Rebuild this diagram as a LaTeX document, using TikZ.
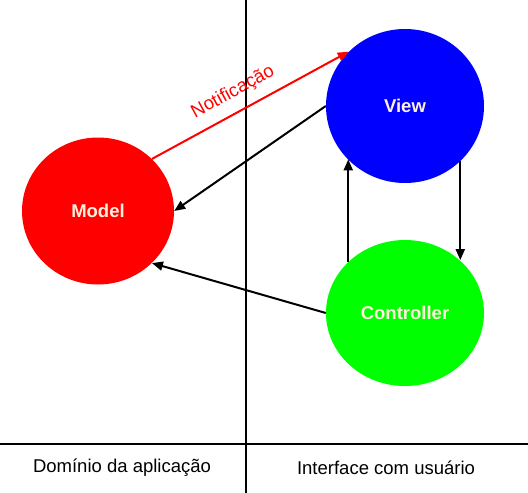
\documentclass[tikz,border=0pt]{standalone}
\usepackage{fontspec}
\setmainfont{Liberation Sans}
\usetikzlibrary{shapes.geometric,arrows.meta,calc}
\definecolor{mvcred}{RGB}{255,0,0}
\definecolor{mvcblue}{RGB}{0,0,255}
\definecolor{mvcgreen}{RGB}{0,255,0}
\definecolor{cream}{RGB}{255,240,220}
\tikzset{
  blob/.style={ellipse, inner sep=0pt, text=cream, font=\fontsize{18.5}{22}\selectfont\bfseries},
  divider/.style={line width=2pt, black},
  arr/.style={line width=2pt, black, -{Triangle[length=11pt,width=9pt]}},
  redarr/.style={line width=2pt, mvcred, -{Triangle[length=11pt,width=9pt]}},
  lbl/.style={font=\fontsize{18.5}{22}\selectfont, inner sep=0pt}
}
\begin{document}
\begin{tikzpicture}[x=1pt,y=-1pt]
\useasboundingbox (0,0) rectangle (528,493);
% dividers
\coordinate (vtop) at (245.5,0);
\coordinate (vbot) at (245.5,493);
\coordinate (hleft) at (0,443.5);
\coordinate (hright) at (528,443.5);
\draw[divider] (vtop) -- (vbot);
\draw[divider] (hleft) -- (hright);
% nodes
\node[blob, fill=mvcred, minimum width=152pt, minimum height=147pt] (model) at (98,211) {Model};
\node[blob, fill=mvcblue, minimum width=158pt, minimum height=154pt] (view) at (405,106) {View};
\node[blob, fill=mvcgreen, minimum width=158pt, minimum height=146pt] (ctrl) at (405,313) {Controller};
% connectors
\draw[redarr] (model.44) -- node[pos=0.46, sloped, above=10pt, inner sep=0pt, text=mvcred, font=\fontsize{18.5}{22}\selectfont] (notif) {Notificação} (view.136);
\draw[arr] (view.180) -- (model.0);
\draw[arr] (ctrl.138) -- (ctrl.138 |- view.223);
\draw[arr] (view.315) -- (view.315 |- ctrl.44);
\draw[arr] (ctrl.180) -- (model.316);
% bottom labels
\node[lbl] (dom) at (122,468) {Domínio da aplicação};
\node[lbl] (ui) at (386,468) {Interface com usuário};
\end{tikzpicture}
\end{document}
